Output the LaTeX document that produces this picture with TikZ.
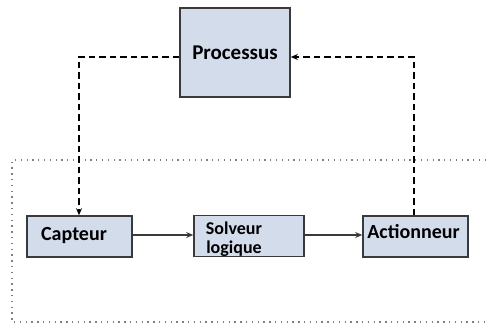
\documentclass[tikz,border=0pt]{standalone}
\usepackage{fontspec}
\setmainfont{Carlito}
\usetikzlibrary{arrows.meta}
\definecolor{boxfill}{HTML}{D3DCEB}
\definecolor{boxdraw}{HTML}{3A3A3A}
\tikzset{
  blockbox/.style={draw=boxdraw, line width=1.6pt, fill=boxfill, inner sep=0pt, font=\bfseries},
  ctrl/.style={line width=1.5pt, black, dash pattern=on 6.5pt off 4pt, -{Stealth[length=7pt,width=6pt]}},
  flow/.style={line width=1.5pt, boxdraw, -{Stealth[length=7pt,width=6pt]}},
  zone/.style={gray, line width=1.3pt, dash pattern=on 1.3pt off 4.5pt}
}
\begin{document}
\begin{tikzpicture}[x=1pt,y=1pt]
\useasboundingbox (0,0) rectangle (486,325);
% dotted zone
\coordinate (zA) at (486,165);
\coordinate (zB) at (12,165);
\coordinate (zC) at (12,3);
\coordinate (zD) at (486,3);
\draw[zone] (zA) -- (zB) -- (zC) -- (zD);
% blocks
\node[blockbox, minimum width=110pt, minimum height=89pt, font=\bfseries\fontsize{21}{24}\selectfont] (proc) at (235,272.5) {Processus};
\node[blockbox, minimum width=105pt, minimum height=41pt] (capt) at (79.5,88.5) {};
\node[font=\bfseries\fontsize{20}{22}\selectfont, inner sep=0pt] (capttext) at (74,89.5) {Capteur};
\node[blockbox, minimum width=110pt, minimum height=41pt] (solv) at (249,89) {};
\node[font=\bfseries\fontsize{18}{19}\selectfont, align=center, inner sep=0pt] (solvtext) at (234,86) {Solveur\\logique};
\node[blockbox, minimum width=105pt, minimum height=41pt] (act) at (415.5,88.5) {};
\node[font=\bfseries\fontsize{20}{22}\selectfont, inner sep=0pt] (acttext) at (413.5,93.5) {Actionneur};
% flows
\draw[flow] (capt.east |- 0,90) -- (solv.west |- 0,90);
\draw[flow] (solv.east |- 0,90) -- (act.west |- 0,90);
% control loop
\draw[ctrl] (proc.west |- 0,268) -| (capt.north -| 79,0);
\draw[ctrl] (act.north -| 414,0) |- (proc.east |- 0,268);
\end{tikzpicture}
\end{document}
